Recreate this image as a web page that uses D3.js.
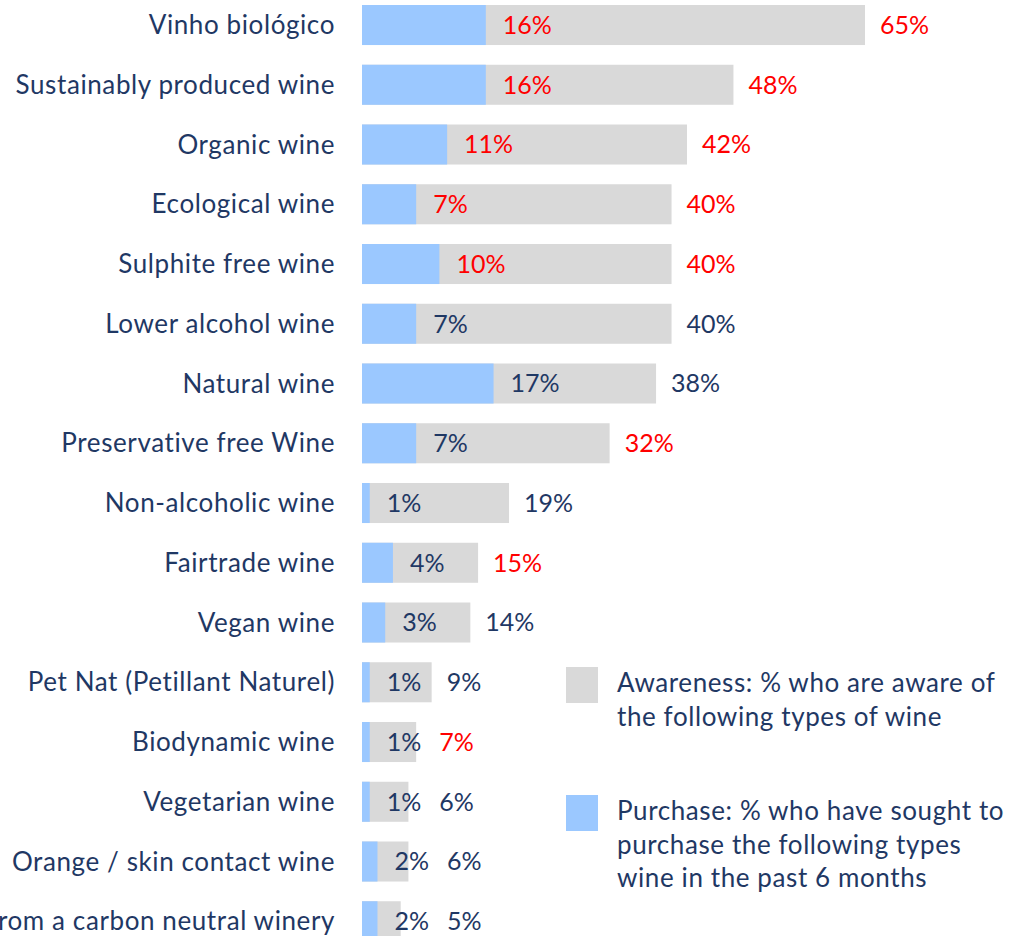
<!DOCTYPE html>
<html>
<head>
<meta charset="utf-8">
<script src="https://cdn.jsdelivr.net/npm/d3@7"></script>
<style>
  body { margin: 0; background: #fff; }
  text { font-family: Lato, "Open Sans", sans-serif; }
</style>
</head>
<body>
<div id="chart"></div>
<script>
var categories = [
  "Vinho biológico",
  "Sustainably produced wine",
  "Organic wine",
  "Ecological wine",
  "Sulphite free wine",
  "Lower alcohol wine",
  "Natural wine",
  "Preservative free Wine",
  "Non-alcoholic wine",
  "Fairtrade wine",
  "Vegan wine",
  "Pet Nat (Petillant Naturel)",
  "Biodynamic wine",
  "Vegetarian wine",
  "Orange / skin contact wine",
  "Wine from a carbon neutral winery"
];
var awareness = [65, 48, 42, 40, 40, 40, 38, 32, 19, 15, 14, 9, 7, 6, 6, 5];
var purchase  = [16, 16, 11, 7, 10, 7, 17, 7, 1, 4, 3, 1, 1, 1, 2, 2];
// which labels are highlighted in red
var awarenessHighlight = [1, 1, 1, 1, 1, 0, 0, 1, 0, 1, 0, 0, 1, 0, 0, 0];
var purchaseHighlight  = [1, 1, 1, 1, 1, 0, 0, 0, 0, 0, 0, 0, 0, 0, 0, 0];
var legendItems = [
  {key: "awareness", lines: ["Awareness: % who are aware of", "the following types of wine"]},
  {key: "purchase", lines: ["Purchase: % who have sought to", "purchase the following types", "wine in the past 6 months"]}
];

var width = 1013, height = 936;
var navy = "#1F3864", red = "#FF0000";
var colors = {awareness: "#D9D9D9", purchase: "#9BC8FF"};

var data = categories.map(function(c, i) {
  return {cat: c, aware: awareness[i], buy: purchase[i],
          awareRed: awarenessHighlight[i], buyRed: purchaseHighlight[i]};
});

var svg = d3.select("#chart").append("svg")
  .attr("width", width)
  .attr("height", height);

var x = d3.scaleLinear().domain([0, 65]).range([362, 865]);
var step = 59.75;
var y = d3.scaleBand()
  .domain(categories)
  .range([5 - 0.165 * step, 5 - 0.165 * step + categories.length * step])
  .paddingInner(0.33)
  .paddingOuter(0.165);

var row = svg.selectAll(".row")
  .data(data)
  .enter().append("g")
  .attr("class", "row")
  .attr("transform", function(d) { return "translate(0," + y(d.cat) + ")"; });

var bh = y.bandwidth();

row.append("rect")
  .attr("x", x(0))
  .attr("width", function(d) { return x(d.aware) - x(0); })
  .attr("height", bh)
  .style("fill", colors.awareness);

row.append("rect")
  .attr("x", x(0))
  .attr("width", function(d) { return x(d.buy) - x(0); })
  .attr("height", bh)
  .style("fill", colors.purchase);

row.append("text")
  .attr("x", 335)
  .attr("y", bh / 2)
  .attr("dy", "0.35em")
  .attr("text-anchor", "end")
  .style("font-size", "26px")
  .style("letter-spacing", "0.6px")
  .style("fill", navy)
  .text(function(d) { return d.cat; });

row.append("text")
  .attr("class", "buy-label")
  .attr("x", function(d) { return x(d.buy) + 17; })
  .attr("y", bh / 2)
  .attr("dy", "0.35em")
  .style("font-size", "25px")
  .style("fill", function(d) { return d.buyRed ? red : navy; })
  .text(function(d) { return d.buy + "%"; })
  .each(function(d) { d.buyEnd = x(d.buy) + 17 + this.getComputedTextLength(); });

// awareness label sits past the bar end, pushed right if it would hit the purchase label
row.append("text")
  .attr("x", function(d) { return Math.max(x(d.aware) + 15, d.buyEnd + 18); })
  .attr("y", bh / 2)
  .attr("dy", "0.35em")
  .style("font-size", "25px")
  .style("fill", function(d) { return d.awareRed ? red : navy; })
  .text(function(d) { return d.aware + "%"; });

// legend
var legendY = [667, 795];
var lg = svg.selectAll(".legend")
  .data(legendItems)
  .enter().append("g")
  .attr("class", "legend")
  .attr("transform", function(d, i) { return "translate(566," + legendY[i] + ")"; });

lg.append("rect")
  .attr("width", 32)
  .attr("height", 36)
  .style("fill", function(d) { return colors[d.key]; });

lg.append("text")
  .style("font-size", "26px")
  .style("letter-spacing", "0.6px")
  .style("fill", navy)
  .selectAll("tspan")
  .data(function(d) { return d.lines; })
  .enter().append("tspan")
  .attr("x", 51)
  .attr("y", function(d, i) { return 25 + i * 33.5; })
  .text(function(d) { return d; });
</script>
</body>
</html>
